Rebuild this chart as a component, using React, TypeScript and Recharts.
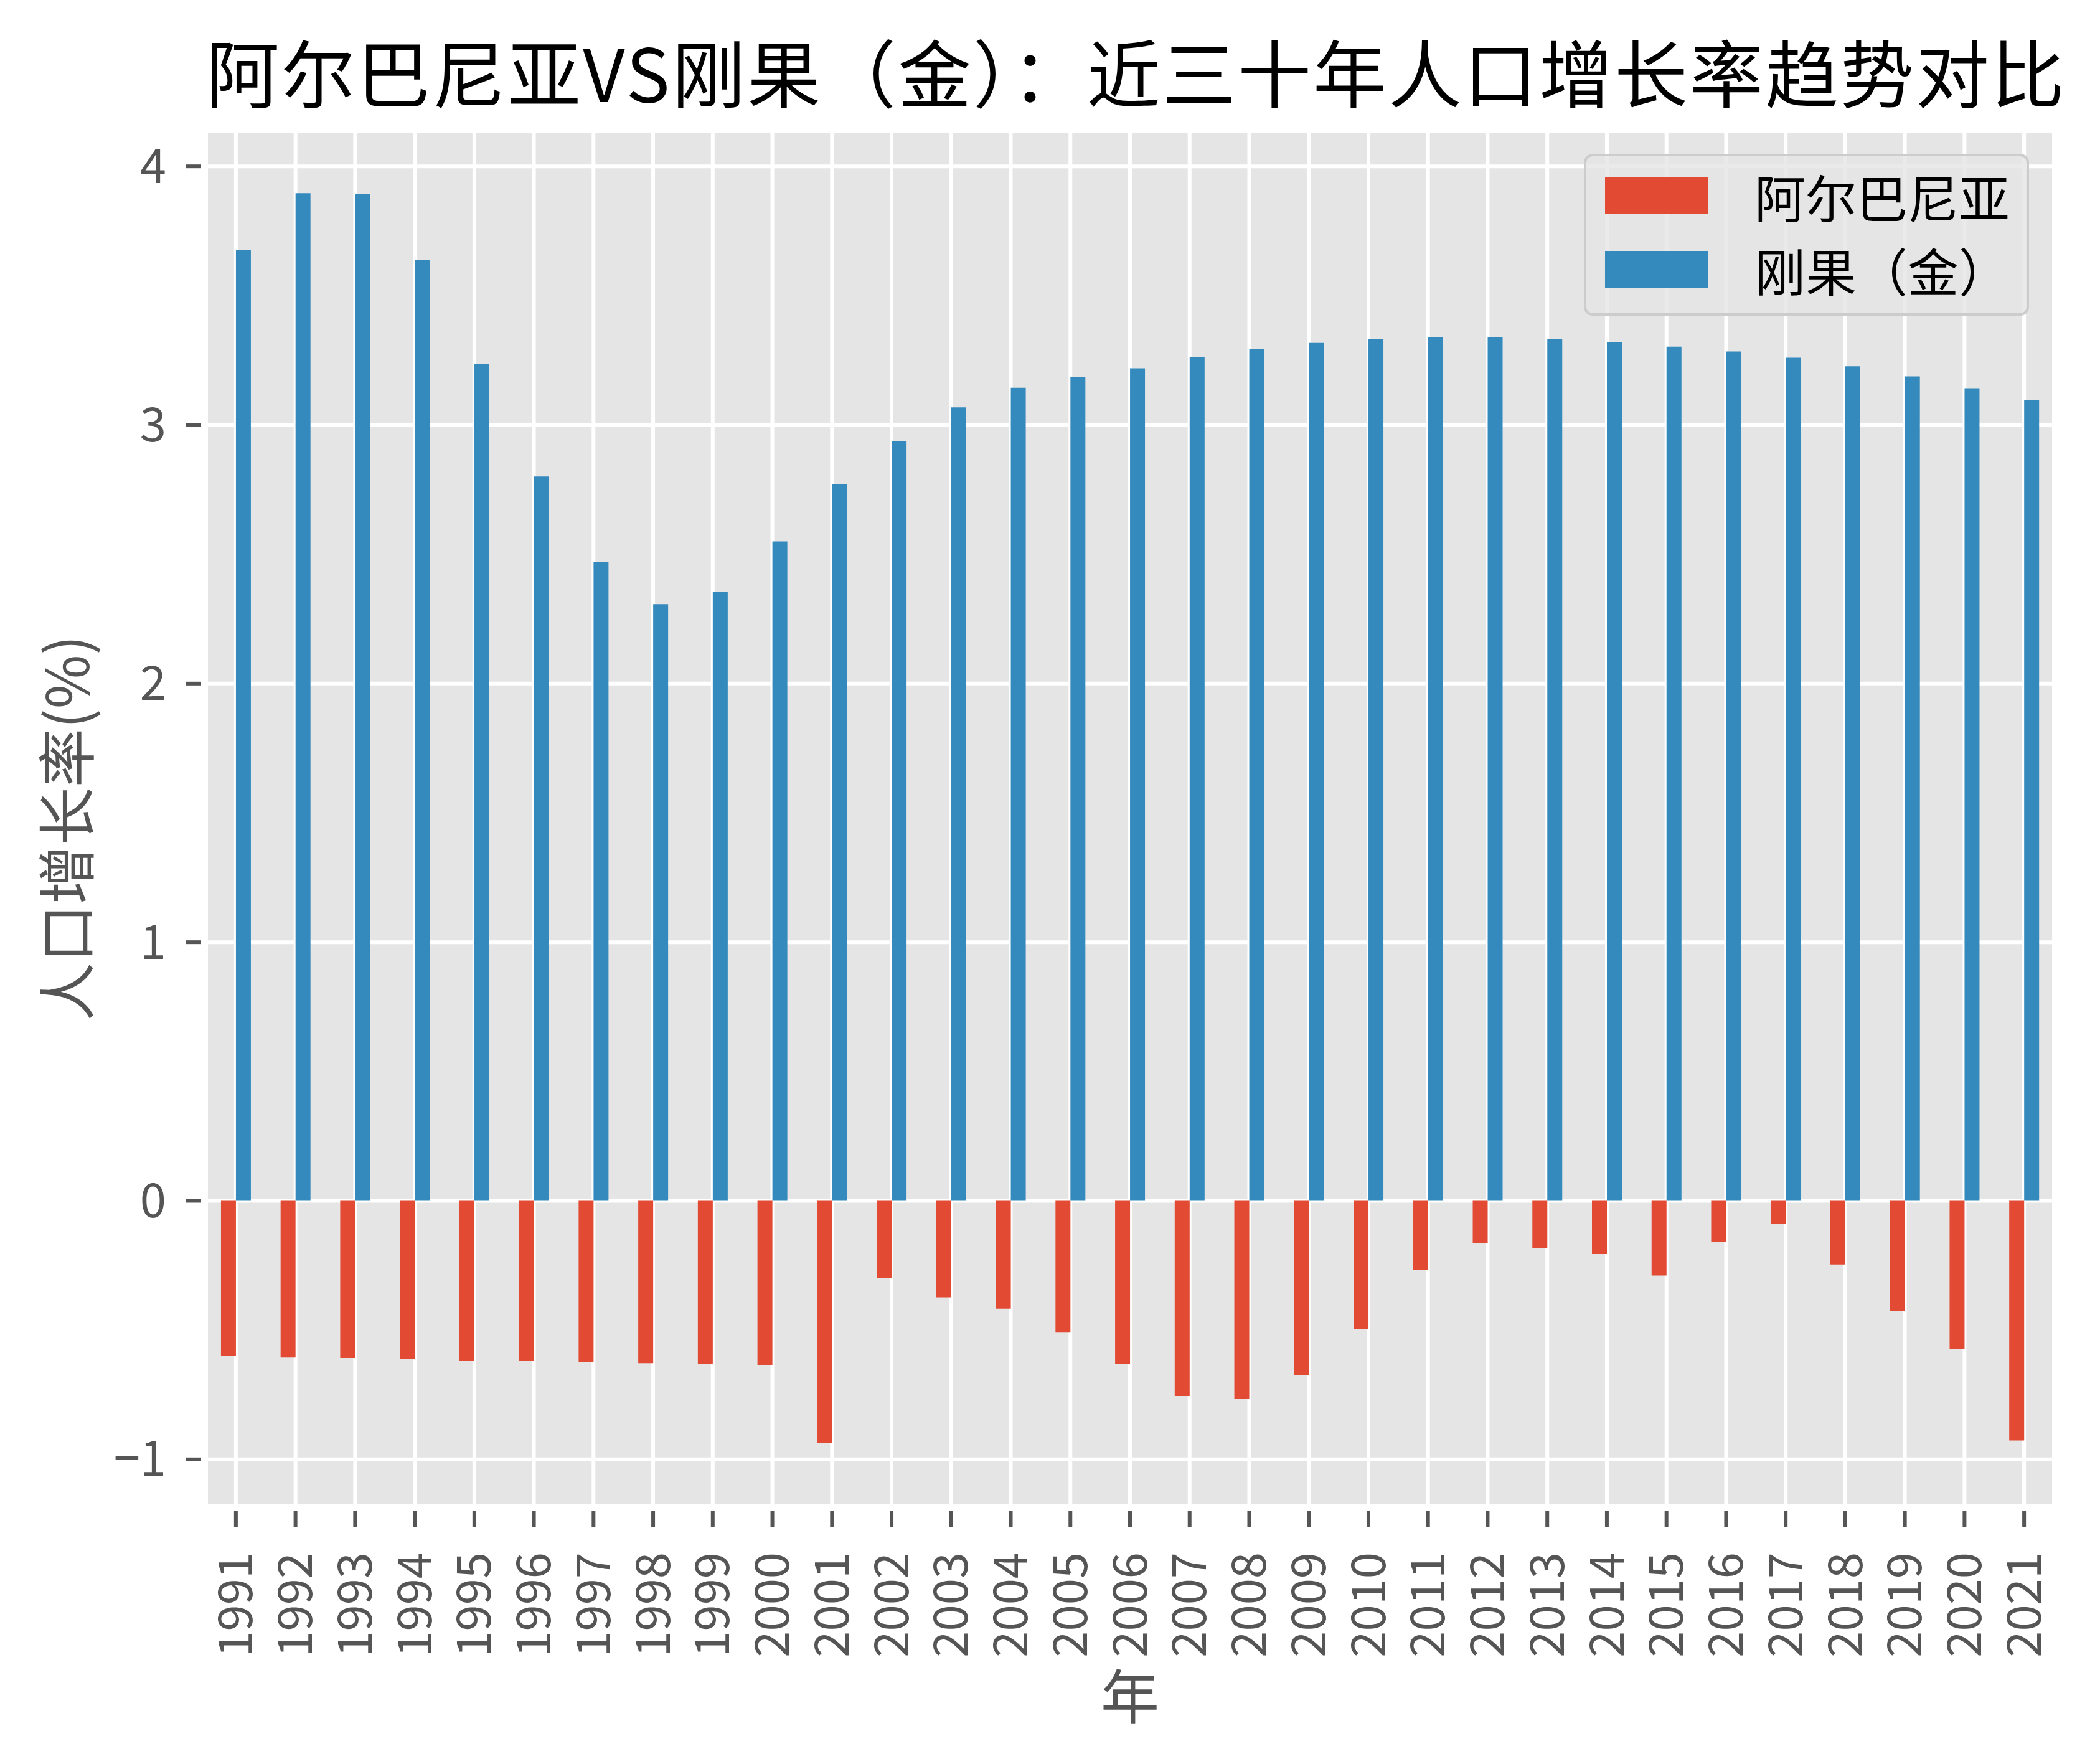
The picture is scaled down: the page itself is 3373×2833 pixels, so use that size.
import React from 'react';
import { BarChart, Bar, XAxis, YAxis, CartesianGrid, Legend, Label } from 'recharts';

const FONT = '"Noto Sans CJK SC", "Noto Sans", sans-serif';

const title = '阿尔巴尼亚VS刚果（金）：近三十年人口增长率趋势对比';
const xLabel = '年';
const yLabel = '人口增长率(%)';

const years = [
  '1991', '1992', '1993', '1994', '1995', '1996', '1997', '1998', '1999', '2000',
  '2001', '2002', '2003', '2004', '2005', '2006', '2007', '2008', '2009', '2010',
  '2011', '2012', '2013', '2014', '2015', '2016', '2017', '2018', '2019', '2020', '2021',
];

const albania = [
  -0.601, -0.606, -0.608, -0.613, -0.618, -0.620, -0.625, -0.628, -0.632, -0.637,
  -0.937, -0.299, -0.373, -0.417, -0.510, -0.630, -0.755, -0.767, -0.673, -0.496,
  -0.268, -0.165, -0.182, -0.206, -0.289, -0.160, -0.090, -0.246, -0.426, -0.572, -0.927,
];

const congo = [
  3.678, 3.896, 3.893, 3.637, 3.235, 2.801, 2.470, 2.307, 2.355, 2.550,
  2.770, 2.936, 3.068, 3.144, 3.185, 3.219, 3.262, 3.293, 3.317, 3.332,
  3.339, 3.339, 3.332, 3.320, 3.303, 3.284, 3.260, 3.227, 3.188, 3.142, 3.096,
];

const yTicks = [-1, 0, 1, 2, 3, 4];
const seriesNames = ['阿尔巴尼亚', '刚果（金）'];
const seriesKeys = ['albania', 'congo'];
const seriesColors = ['#E24A33', '#348ABD'];

const data = years.map((y, i) => ({ year: y, albania: albania[i], congo: congo[i] }));

const allVals = [...albania, ...congo];
const dMin = Math.min(...allVals);
const dMax = Math.max(...allVals);
const pad = (dMax - dMin) * 0.05;
const yDomain: [number, number] = [dMin - pad, dMax + pad];

const TICK_COLOR = '#555555';

const XTick = (props: any) => {
  const { x, y, payload } = props;
  const base = y - 41 - 34;
  return (
    <g>
      <line x1={x} x2={x} y1={base + 9} y2={base + 34} stroke={TICK_COLOR} strokeWidth={6} />
      <g transform={`translate(${x},${y})`}>
        <text transform="rotate(-90)" textAnchor="end" dy="0.35em" fontSize={76} fill={TICK_COLOR} fontFamily={FONT}>
          {payload.value}
        </text>
      </g>
    </g>
  );
};

const YTick = (props: any) => {
  const { x, y, payload } = props;
  const v = payload.value as number;
  const label = v < 0 ? '\u2212' + Math.abs(v) : String(v);
  const base = x + 31 + 33;
  return (
    <g>
      <line x1={base - 8} x2={base - 33} y1={y} y2={y} stroke={TICK_COLOR} strokeWidth={6} />
      <text x={x} y={y} dy="0.35em" textAnchor="end" fontSize={76} fill={TICK_COLOR} fontFamily={FONT}>
        {label}
      </text>
    </g>
  );
};

const LegendBox = () => (
  <div
    style={{
      position: 'relative',
      width: 715,
      height: 260,
      boxSizing: 'border-box',
      background: 'rgba(229,229,229,0.8)',
      border: '4px solid #CCCCCC',
      borderRadius: 14,
      fontFamily: FONT,
    }}
  >
    {seriesNames.map((name, i) => (
      <div key={name}>
        <div
          style={{
            position: 'absolute',
            left: 30,
            top: 34 + i * 118,
            width: 165,
            height: 59,
            background: seriesColors[i],
          }}
        />
        <div
          style={{
            position: 'absolute',
            left: 270,
            top: 14 + i * 118,
            height: 100,
            lineHeight: '100px',
            fontSize: 82,
            color: '#000',
            whiteSpace: 'nowrap',
          }}
        >
          {name}
        </div>
      </div>
    ))}
  </div>
);

export default function App() {
  return (
    <div style={{ position: 'absolute', left: 0, top: 0, width: 3373, height: 2833, background: '#fff', fontFamily: FONT }}>
      <div
        style={{
          position: 'absolute',
          left: 331,
          width: 2968,
          top: 42,
          textAlign: 'center',
          fontSize: 118,
          letterSpacing: 3,
          lineHeight: '142px',
          color: '#000',
          whiteSpace: 'nowrap',
          zIndex: 2,
        }}
      >
        {title}
      </div>
      <BarChart
        width={3373}
        height={2833}
        data={data}
        margin={{ top: 210, right: 74, bottom: 0, left: 0 }}
        barCategoryGap="25%"
        barGap={0}
      >
        <CartesianGrid fill="#E5E5E5" fillOpacity={1} stroke="#FFFFFF" strokeWidth={6} />
        <XAxis
          dataKey="year"
          height={415}
          interval={0}
          tickSize={34}
          tickMargin={41}
          axisLine={false}
          tickLine={false}
          tick={<XTick />}
        >
          <Label
            content={(p: any) => {
              const vb = p.viewBox || { x: 331, y: 2418, width: 2968, height: 415 };
              const cx = vb.x + vb.width / 2;
              const cy = vb.y + 309;
              return (
                <text x={cx} y={cy} dy="0.35em" textAnchor="middle" fontSize={94} fill={TICK_COLOR} fontFamily={FONT}>
                  {xLabel}
                </text>
              );
            }}
          />
        </XAxis>
        <YAxis
          type="number"
          width={331}
          domain={yDomain}
          ticks={yTicks}
          allowDataOverflow
          tickSize={33}
          tickMargin={31}
          axisLine={false}
          tickLine={false}
          tick={<YTick />}
        >
          <Label
            content={(p: any) => {
              const vb = p.viewBox || { x: 0, y: 210, width: 331, height: 2208 };
              const cx = vb.x + 110;
              const cy = vb.y + vb.height / 2 + 16;
              return (
                <text
                  x={cx}
                  y={cy}
                  dy="0.35em"
                  transform={`rotate(-90 ${cx} ${cy})`}
                  textAnchor="middle"
                  fontSize={94}
                  fill={TICK_COLOR}
                  fontFamily={FONT}
                >
                  {yLabel}
                </text>
              );
            }}
          />
        </YAxis>
        <Legend
          layout="vertical"
          align="center"
          verticalAlign="middle"
          wrapperStyle={{ top: 247, left: 2544, width: 715, height: 260 }}
          content={() => <LegendBox />}
        />
        {seriesKeys.map((k, i) => (
          <Bar key={k} dataKey={k} name={seriesNames[i]} fill={seriesColors[i]} isAnimationActive={false} />
        ))}
      </BarChart>
    </div>
  );
}
